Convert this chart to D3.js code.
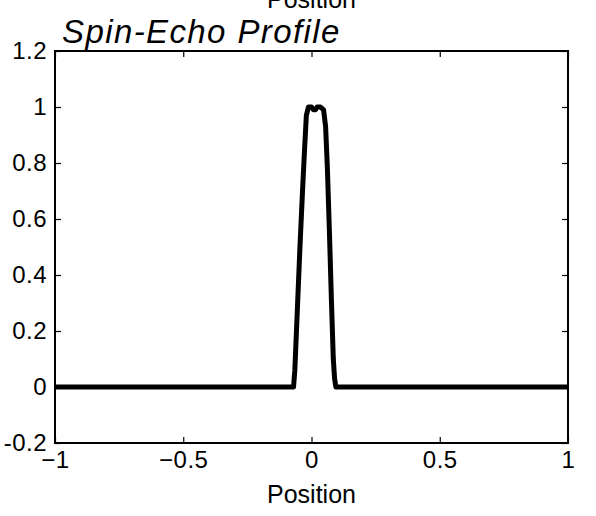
<!DOCTYPE html>
<html>
<head>
<meta charset="utf-8">
<script src="https://cdn.jsdelivr.net/npm/d3@7"></script>
<style>
  body { margin: 0; background: #fff; }
  svg { display: block; font-family: "Liberation Sans", Arial, sans-serif; }
</style>
</head>
<body>
<div id="chart"></div>
<script>
// profile vertices
const posX = [-1, -0.07, -0.065, -0.055, -0.045, -0.035, -0.027, -0.02, -0.012, 0.0, 0.008, 0.015, 0.022, 0.035, 0.047, 0.055, 0.062, 0.07, 0.078, 0.085, 0.09, 0.095, 1];
const signal = [0, 0, 0.06, 0.28, 0.5, 0.7, 0.85, 0.97, 1.0, 1.0, 0.99, 0.99, 1.0, 1.0, 0.99, 0.93, 0.78, 0.55, 0.3, 0.1, 0.03, 0, 0];

const xTicks = [-1, -0.5, 0, 0.5, 1];
const xTickLabels = ["\u22121", "\u22120.5", "0", "0.5", "1"];
const yTicks = [-0.2, 0, 0.2, 0.4, 0.6, 0.8, 1, 1.2];
const yTickLabels = ["-0.2", "0", "0.2", "0.4", "0.6", "0.8", "1", "1.2"];

const W = 596, H = 516;
const margin = {top: 51, right: 28, bottom: 73, left: 55},
    width = W - margin.left - margin.right,
    height = H - margin.top - margin.bottom;

const svg = d3.select("#chart")
  .append("svg")
    .attr("width", W)
    .attr("height", H);

// cut-off x label of the plot above
svg.append("text")
  .attr("x", margin.left + width / 2)
  .attr("y", 8)
  .attr("text-anchor", "middle")
  .style("font-size", "25px")
  .text("Position");

const g = svg.append("g")
  .attr("transform", `translate(${margin.left},${margin.top})`);

const x = d3.scaleLinear().domain([-1, 1]).range([0, width]);
const y = d3.scaleLinear().domain([-0.2, 1.2]).range([height, 0]);

// ticks pointing inwards on all four sides
const tickLen = 6;
function styleAxis(sel) {
  sel.select(".domain").remove();
  sel.selectAll("line").attr("stroke", "#000").attr("stroke-width", 1.2);
}
g.append("g").attr("transform", `translate(0,${height})`)
  .call(d3.axisBottom(x).tickValues(xTicks).tickSize(-tickLen).tickFormat((d, i) => xTickLabels[i]).tickPadding(8))
  .call(styleAxis)
  .selectAll("text").style("font-size", "24px").style("letter-spacing", "0.5px").attr("fill", "#000");
g.append("g")
  .call(d3.axisTop(x).tickValues(xTicks).tickSize(-tickLen).tickFormat(""))
  .call(styleAxis);
g.append("g")
  .call(d3.axisLeft(y).tickValues(yTicks).tickSize(-tickLen).tickFormat((d, i) => yTickLabels[i]).tickPadding(8))
  .call(styleAxis)
  .selectAll("text").style("font-size", "24px").style("letter-spacing", "0.5px").attr("fill", "#000");
g.append("g").attr("transform", `translate(${width},0)`)
  .call(d3.axisRight(y).tickValues(yTicks).tickSize(-tickLen).tickFormat(""))
  .call(styleAxis);

// frame
g.append("rect")
  .attr("width", width)
  .attr("height", height)
  .attr("fill", "none")
  .attr("stroke", "#000")
  .attr("stroke-width", 2);

const data = posX.map((d, i) => ({pos: d, val: signal[i]}));
g.append("path")
  .datum(data)
  .attr("fill", "none")
  .attr("stroke", "#000")
  .attr("stroke-width", 5)
  .attr("stroke-linejoin", "round")
  .attr("d", d3.line()
    .x(d => x(d.pos))
    .y(d => y(d.val)));

// title
svg.append("text")
  .attr("x", 62)
  .attr("y", 43)
  .style("font-size", "33px")
  .style("font-style", "italic")
  .style("letter-spacing", "1.4px")
  .text("Spin-Echo Profile");

// x label
svg.append("text")
  .attr("x", margin.left + width / 2)
  .attr("y", 503)
  .attr("text-anchor", "middle")
  .style("font-size", "25px")
  .text("Position");
</script>
</body>
</html>
